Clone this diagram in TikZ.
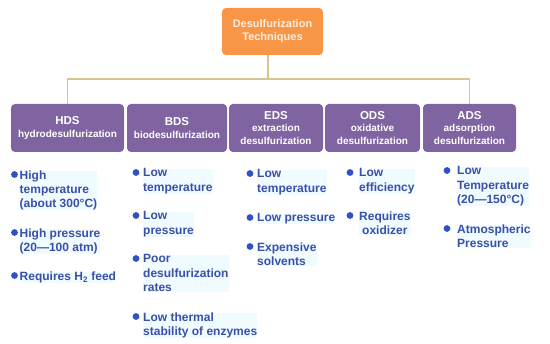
\documentclass[tikz,border=0pt]{standalone}
\usepackage{fontspec}
\setmainfont{Liberation Sans}
\usetikzlibrary{positioning,calc}
\definecolor{TitleOrange}{HTML}{F79646}
\definecolor{TitleText}{HTML}{FDEDE2}
\definecolor{TechPurple}{HTML}{8064A2}
\definecolor{LinkTan}{HTML}{D9C590}
\definecolor{ItemBlue}{HTML}{3A4FA8}
\definecolor{DotBlue}{HTML}{3050C8}
\definecolor{HiCyan}{HTML}{EFFBFF}
\newcommand{\abbr}[1]{{\fontsize{11.5}{13}\selectfont #1}}
\tikzset{
  titlebox/.style={rounded corners=4pt, fill=TitleOrange, text=TitleText, align=center, font=\fontsize{11}{13}\selectfont\bfseries, minimum width=101pt, minimum height=47pt, inner sep=0pt},
  techbox/.style={rounded corners=4pt, fill=TechPurple, text=white, align=center, font=\fontsize{10}{12.5}\selectfont\bfseries, minimum height=48pt, inner sep=0pt},
  itembox/.style={anchor=north west, inner sep=0pt, fill=HiCyan, text=ItemBlue, align=left, font=\fontsize{12}{14.3}\selectfont\bfseries},
  link/.style={draw=LinkTan, line width=1.4pt}
}
\begin{document}
\begin{tikzpicture}[x=1pt, y=-1pt]
    \useasboundingbox (0,0) rectangle (550,344);
    % top node and branches
    \node[titlebox] (title) at (272.5,31.5) {Desulfurization\\Techniques};
    \node[techbox, minimum width=113pt] (hds) at (67.5,128) {\abbr{HDS}\\hydrodesulfurization};
    \node[techbox, minimum width=100pt] (bds) at (177,128) {\abbr{BDS}\\biodesulfurization};
    \node[techbox, minimum width=94pt] (eds) at (276,128) {\abbr{EDS}\\extraction\\desulfurization};
    \node[techbox, minimum width=95pt] (ods) at (372.5,128) {\abbr{ODS}\\oxidative\\desulfurization};
    \node[techbox, minimum width=93pt] (ads) at (469.5,128) {\abbr{ADS}\\adsorption\\desulfurization};
    \coordinate (bar) at (268,79);

    \draw[link] (hds.north) |- (bar) -| (ads.north);
    \draw[link] (title.south -| bar) -- (bar);

    % features of each technique
    \node[itembox] (h1) at (19.5,170.5) {High\\temperature\\(about 300°C)};
    \node[itembox] (h2) at (19.5,228.5) {High pressure\\(20—100 atm)};
    \node[itembox] (h3) at (19.5,271.5) {Requires H\textsubscript{2} feed};
    \node[itembox] (b1) at (143,168.5) {Low\\temperature};
    \node[itembox] (b2) at (143,211.5) {Low\\pressure};
    \node[itembox] (b3) at (143,254.5) {Poor\\desulfurization\\rates};
    \node[itembox] (b4) at (143,312.5) {Low thermal\\stability of enzymes};
    \node[itembox] (e1) at (257,169.5) {Low\\temperature};
    \node[itembox] (e2) at (257,213.5) {Low pressure};
    \node[itembox] (e3) at (257,242.5) {Expensive\\solvents};
    \node[itembox] (o1) at (359,168.5) {Low\\efficiency};
    \node[itembox, align=center] (o2) at (359,211.5) {Requires\\oxidizer};
    \node[itembox] (a1) at (457,166.5) {Low\\Temperature\\(20—150°C)};
    \node[itembox] (a2) at (457,224.5) {Atmospheric\\Pressure};

    \foreach \i/\d in {h1/5,h2/5,h3/5,b1/7,b2/7,b3/7,b4/7,e1/7,e2/7,e3/7,o1/9,o2/9,a1/10,a2/10}
      \fill[DotBlue] ([xshift=-\d pt, yshift=-4pt]\i.north west) circle (3.4pt);
  \end{tikzpicture}
\end{document}
